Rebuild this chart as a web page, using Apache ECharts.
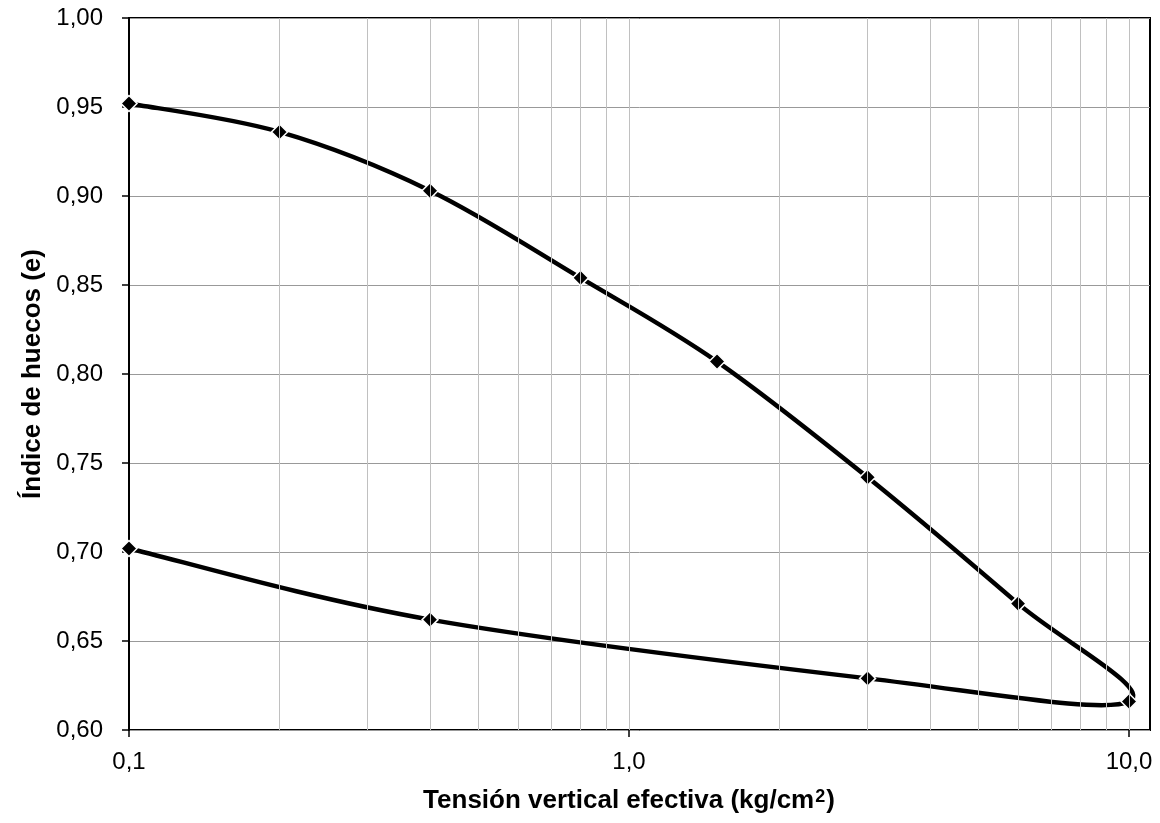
<!DOCTYPE html>
<html><head><meta charset="utf-8">
<script src="https://cdn.jsdelivr.net/npm/echarts@6/dist/echarts.min.js"></script>
<style>html,body{margin:0;padding:0;background:#fff}#chart{width:1160px;height:823px}</style>
</head><body><div id="chart"></div>
<script>
// Data
const loadingStress = [0.1, 0.2, 0.4, 0.8, 1.5, 3, 6, 10];
const loadingVoid   = [0.952, 0.936, 0.903, 0.854, 0.807, 0.742, 0.671, 0.616];
const unloadingStress = [3, 0.4, 0.1];
const unloadingVoid   = [0.629, 0.662, 0.702];
const xTickLabels = [0.1, 1, 10];
const yTickLabels = ['0,60','0,65','0,70','0,75','0,80','0,85','0,90','0,95','1,00'];
const verticalGridValues = [0.2,0.3,0.4,0.5,0.6,0.7,0.8,0.9,1,2,3,4,5,6,7,8,9,10];

const curve = loadingStress.map((x, i) => [x, loadingVoid[i]])
  .concat(unloadingStress.map((x, i) => [x, unloadingVoid[i]]));

const FONT = "'Liberation Sans', Arial, sans-serif";
const chart = echarts.init(document.getElementById('chart'), null, {renderer: 'canvas'});

// Excel-style smoothed segment (Catmull-Rom Bezier, 1/6 tangents) computed in pixel space
function renderSegment(params, api) {
  const i = params.dataIndex;
  const n = curve.length;
  if (i >= n - 1) return null;
  const p0 = api.coord(curve[Math.max(i - 1, 0)]);
  const p1 = api.coord(curve[i]);
  const p2 = api.coord(curve[i + 1]);
  const p3 = api.coord(curve[Math.min(i + 2, n - 1)]);
  const k = 1 / 6;
  return {
    type: 'bezierCurve',
    shape: {
      x1: p1[0], y1: p1[1], x2: p2[0], y2: p2[1],
      cpx1: p1[0] + (p2[0] - p0[0]) * k, cpy1: p1[1] + (p2[1] - p0[1]) * k,
      cpx2: p2[0] - (p3[0] - p1[0]) * k, cpy2: p2[1] - (p3[1] - p1[1]) * k
    },
    style: {stroke: '#000', lineWidth: 4.5, fill: null, lineCap: 'round', lineJoin: 'round'}
  };
}

chart.setOption({
  animation: false,
  backgroundColor: '#fff',
  grid: [
    {left: 129, right: 10, top: 18, bottom: 93, show: true, borderColor: '#000', borderWidth: 2, backgroundColor: 'transparent'},
    {left: 129, width: 1000, top: 18, bottom: 93, show: false}
  ],
  xAxis: [
    {type: 'log', logBase: 10, gridIndex: 0, min: 0.1, max: Math.pow(10, 1.042), show: false},
    {type: 'log', logBase: 10, gridIndex: 1, min: 0.1, max: 10,
     axisLine: {show: false},
     axisTick: {show: true, length: 7, lineStyle: {color: '#000', width: 1.5}},
     axisLabel: {fontFamily: FONT, fontSize: 24, color: '#000', margin: 20,
       formatter: v => {
         const r = xTickLabels.find(t => Math.abs(t - v) < 1e-9 * Math.max(1, t));
         return r === undefined ? '' : r.toFixed(1).replace('.', ',');
       }},
     splitLine: {show: false},
     name: '{b|Tensión vertical efectiva (kg/cm}{sup|2}{b|)}', nameLocation: 'middle', nameGap: 58,
     nameTextStyle: {fontFamily: FONT, fontSize: 26, fontWeight: 'bold', color: '#000',
       rich: {
         b: {fontFamily: FONT, fontSize: 26, fontWeight: 'bold', color: '#000'},
         sup: {fontFamily: FONT, fontSize: 18, fontWeight: 'bold', color: '#000', verticalAlign: 'top', padding: [0, 1, 8, 1]}
       }}}
  ],
  yAxis: [
    {type: 'value', gridIndex: 0, min: 0.6, max: 1.0, interval: 0.05,
     axisLine: {show: true, lineStyle: {color: '#000', width: 2}},
     axisTick: {show: true, length: 7, lineStyle: {color: '#000', width: 1.5}},
     axisLabel: {fontFamily: FONT, fontSize: 24, color: '#000', margin: 26,
       formatter: v => yTickLabels[Math.round((v - 0.6) / 0.05)]},
     splitLine: {show: true, lineStyle: {color: '#999', width: 1}},
     name: 'Índice de huecos (e)', nameLocation: 'middle', nameGap: 72,
     nameTextStyle: {fontFamily: FONT, fontSize: 26, fontWeight: 'bold', color: '#000'}},
    {type: 'value', gridIndex: 1, min: 0.6, max: 1.0, show: false}
  ],
  series: [
    {type: 'line', xAxisIndex: 0, yAxisIndex: 0, data: [], silent: true, z: 1,
     markLine: {silent: true, symbol: ['none', 'none'], label: {show: false},
       lineStyle: {color: '#c0c0c0', width: 1, type: 'solid'},
       emphasis: {disabled: true},
       data: verticalGridValues.map(v => ({xAxis: v}))}},
    {type: 'custom', xAxisIndex: 0, yAxisIndex: 0, data: curve, renderItem: renderSegment,
     silent: true, z: 3, clip: false},
    {type: 'scatter', xAxisIndex: 0, yAxisIndex: 0, data: curve, z: 4,
     symbol: 'diamond', symbolSize: 16,
     itemStyle: {color: '#000', borderColor: '#fff', borderWidth: 1.5, opacity: 1}}
  ]
});
</script></body></html>
